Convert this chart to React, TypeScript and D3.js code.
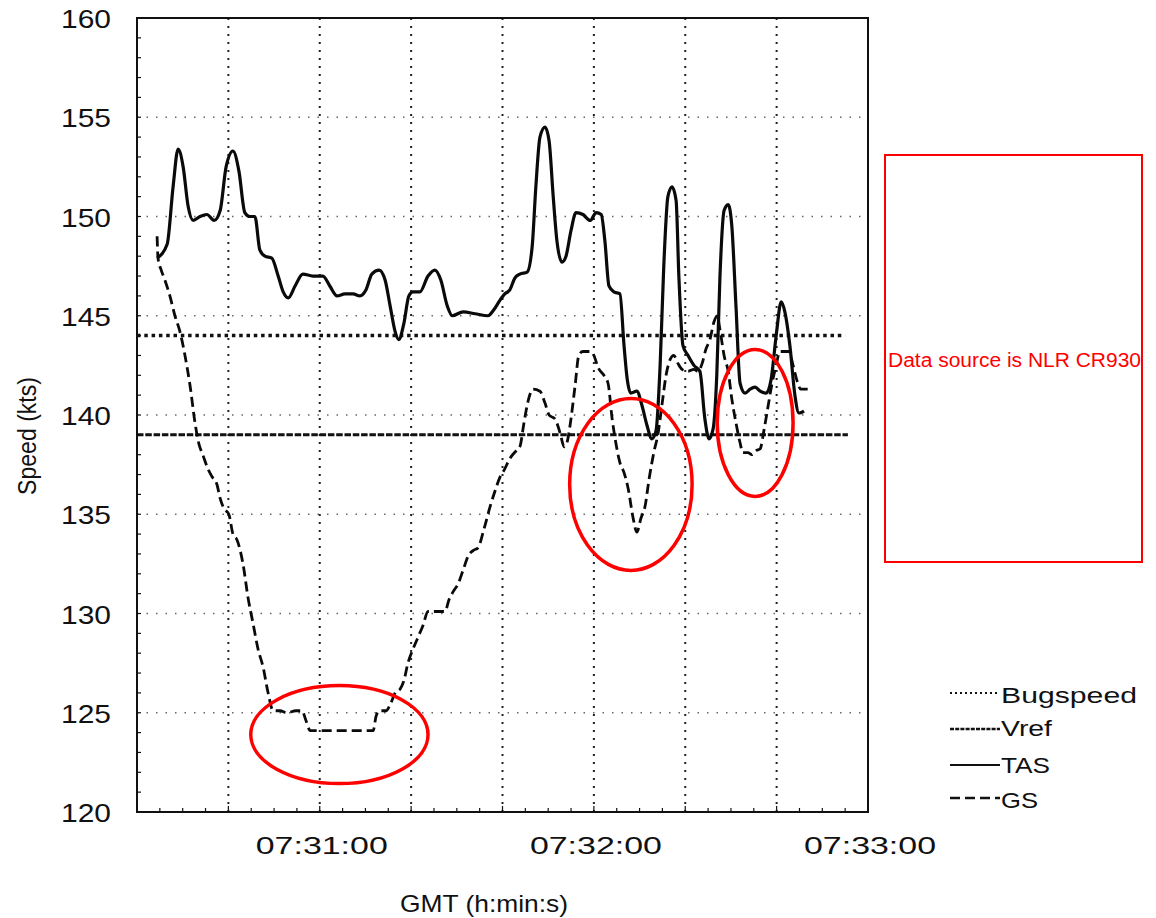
import React from 'react';
import * as d3 from 'd3';

// ---- data (seconds after 07:30:00, knots) ----
const TAS_TIME = [24.4,26.6,27.9,29.0,30.1,31.2,32.3,33.8,35.3,36.9,38.2,39.5,41.0,42.3,43.6,44.7,45.8,46.9,48.0,49.5,50.9,52.0,53.1,54.6,56.3,58.5,60.7,62.2,63.8,65.5,67.3,68.8,70.1,71.4,73.0,74.3,75.4,76.5,77.3,78.4,79.5,80.4,81.9,83.7,85.2,86.5,87.9,89.0,91.4,94.0,96.8,98.1,99.5,100.5,101.6,102.7,103.8,105.4,106.5,107.3,108.2,109.3,110.2,111.1,111.9,113.0,113.9,115.0,116.1,117.6,119.2,120.5,121.6,122.4,123.3,124.4,125.7,126.6,127.3,128.1,129.4,130.5,131.6,132.7,133.6,134.5,135.3,136.2,137.1,138.0,138.6,139.5,140.6,141.9,143.2,144.3,145.2,146.1,146.9,147.6,148.5,149.4,150.2,151.1,152.0,153.1,154.2,155.3,156.4,157.7,158.8,159.9,161.0,161.8,162.9,164.0,164.9,166.0];
const TAS_KTS = [147.9,148.6,151.5,153.4,152.5,150.5,149.8,150.0,150.1,149.8,150.3,152.5,153.3,152.3,150.2,150.0,150.0,148.3,148.0,147.9,147.0,146.2,145.9,146.5,147.1,147.0,147.0,146.5,146.0,146.1,146.1,146.0,146.3,147.1,147.3,146.8,145.5,144.2,143.8,144.6,146.0,146.2,146.2,147.0,147.3,146.8,145.5,145.0,145.2,145.1,145.0,145.3,145.8,146.1,146.3,146.9,147.1,147.2,148.5,151.5,154.0,154.5,153.8,151.0,148.8,147.7,148.0,149.3,150.2,150.1,149.8,150.2,150.1,148.8,146.5,146.2,146.1,143.5,141.8,141.1,141.2,140.5,139.5,138.8,139.2,142.5,147.5,151.0,151.5,150.8,147.0,143.5,143.0,142.5,142.2,139.8,138.8,139.3,142.0,147.0,150.3,150.6,149.5,145.5,141.6,141.1,141.3,141.4,141.2,141.1,141.8,144.0,145.7,145.2,143.5,141.0,140.1,140.2];

const GS_TIME = [24.4,24.6,25.3,26.1,27.2,28.3,29.4,30.5,31.6,32.7,33.6,34.4,35.5,36.4,37.5,38.2,39.0,40.1,41.0,41.9,43.2,44.3,45.4,46.5,47.6,48.7,49.8,51.3,52.8,54.8,56.1,57.0,57.9,60.1,64.4,68.8,71.7,72.3,73.0,74.5,75.4,76.5,77.6,78.4,79.3,80.4,81.5,82.6,83.7,85.4,87.4,88.3,89.2,90.3,91.4,92.5,93.8,94.6,96.0,97.3,98.4,99.5,100.3,101.6,103.0,103.8,104.7,105.6,106.7,108.2,109.3,110.2,111.5,112.6,113.5,114.1,114.8,115.9,116.7,117.6,119.2,120.0,120.9,122.2,123.1,124.0,124.8,125.7,126.6,127.5,128.6,129.4,130.3,131.2,132.1,133.2,134.0,134.9,135.8,136.7,137.5,138.4,139.3,140.6,141.9,142.8,143.7,144.5,145.4,146.3,147.0,147.6,148.5,149.4,150.2,151.1,152.0,152.6,153.7,154.6,155.5,156.4,157.2,158.1,159.0,159.9,160.7,161.8,162.7,163.6,164.5,165.3,166.4,167.7];
const GS_KTS = [149.0,147.9,147.3,146.8,146.0,145.0,144.2,143.0,141.5,139.6,138.5,138.0,137.3,136.9,136.5,135.8,135.3,135.0,134.0,133.7,132.5,130.8,129.5,128.2,127.3,126.0,125.1,125.1,125.0,125.1,125.1,124.6,124.1,124.1,124.1,124.1,124.1,124.8,125.1,125.1,125.4,126.0,126.2,126.6,127.5,128.2,128.8,129.4,130.1,130.1,130.1,130.7,131.1,131.5,132.2,132.9,133.2,133.3,134.3,135.4,136.2,136.9,137.2,137.8,138.2,138.4,139.6,140.7,141.3,141.2,140.6,140.0,139.8,139.1,138.4,138.6,139.5,141.5,143.0,143.2,143.2,143.0,142.4,142.0,141.6,139.8,138.6,137.6,137.1,136.3,134.8,134.1,134.8,135.4,136.8,138.2,139.0,140.5,142.0,142.8,143.0,142.6,142.3,142.2,142.3,142.2,142.6,143.3,143.8,144.7,145.0,144.3,143.0,142.2,140.8,139.6,138.6,138.1,138.1,138.0,138.2,138.3,139.2,140.4,141.6,142.5,143.2,143.2,143.2,142.5,141.7,141.3,141.3,141.3];

const BUGSPEED = 144;
const BUGSPEED_RANGE = [20, 175.0];
const VREF = 139;
const VREF_RANGE = [20, 175.6];

const Y_TICKS = [120, 125, 130, 135, 140, 145, 150, 155, 160];
const X_GRID = [40, 60, 80, 100, 120, 140, 160];
const X_LABEL_T = [60, 120, 180];
const X_LABELS = ['07:31:00', '07:32:00', '07:33:00'];

// annotation ellipses: centre time, centre kts, half-width (s), half-height (kts)
const MARK_T = [64.3, 128.1, 155.3];
const MARK_V = [123.9, 136.5, 139.6];
const MARK_RT = [19.4, 13.4, 8.3];
const MARK_RV = [2.47, 4.33, 3.7];

const LEGEND = ['Bugspeed', 'Vref', 'TAS', 'GS'];

const W = 1156, H = 918;
const X0 = 137, X1 = 868, Y0 = 812, Y1 = 18;

export default function App() {
  const x = d3.scaleLinear().domain([20, 180]).range([X0, X1]);
  const y = d3.scaleLinear().domain([120, 160]).range([Y0, Y1]);

  const tas = d3.zip(TAS_TIME, TAS_KTS) as [number, number][];
  const gs = d3.zip(GS_TIME, GS_KTS) as [number, number][];
  const line = d3.line<[number, number]>()
    .x(d => x(d[0])).y(d => y(d[1]))
    .curve(d3.curveMonotoneX);

  const minorY = d3.range(121, 160, 1);
  const minorX = d3.range(25, 180, 5);

  const font = '"Liberation Sans", Arial, sans-serif';
  const legendStyles = [
    { dash: '2,3', w: 2 },
    { dash: '4,1.2', w: 2.5 },
    { dash: null, w: 2.2 },
    { dash: '10,5', w: 2.5 },
  ];
  const legendLineY = [693, 729, 765, 798];
  const legendTextY = [703, 736, 773, 808];
  const legendTextLen = [136, 51, 49, 37];

  return (
    <svg width={W} height={H} style={{ position: 'absolute', left: 0, top: 0, background: '#fff' }}>
      <rect x={0} y={0} width={W} height={H} fill="#fff" />
      {/* horizontal grid */}
      {Y_TICKS.filter(v => v > 120 && v < 160).map(v => (
        <line key={'hg' + v} x1={X0} x2={X1} y1={y(v)} y2={y(v)}
          stroke="#666" strokeWidth={1.3} strokeDasharray="1.5,8" />
      ))}
      {/* vertical grid */}
      {X_GRID.map(t => (
        <line key={'vg' + t} x1={x(t)} x2={x(t)} y1={Y1} y2={Y0}
          stroke="#222" strokeWidth={2} strokeDasharray="2,6" />
      ))}
      {/* minor ticks */}
      {minorY.map(v => (
        <line key={'my' + v} x1={X0} x2={X0 + 4} y1={y(v)} y2={y(v)} stroke="#111" strokeWidth={1.2} />
      ))}
      {minorX.map(t => (
        <line key={'mx' + t} x1={x(t)} x2={x(t)} y1={Y0} y2={Y0 - (t % 20 === 0 ? 6 : 4)} stroke="#111" strokeWidth={1.2} />
      ))}
      {/* frame */}
      <rect x={X0} y={Y1} width={X1 - X0} height={Y0 - Y1} fill="none" stroke="#111" strokeWidth={2} />

      {/* reference lines */}
      <line x1={x(BUGSPEED_RANGE[0])} x2={x(BUGSPEED_RANGE[1])} y1={y(BUGSPEED)} y2={y(BUGSPEED)}
        stroke="#111" strokeWidth={3.5} strokeDasharray="3.5,3.8" />
      <line x1={x(VREF_RANGE[0])} x2={x(VREF_RANGE[1])} y1={y(VREF)} y2={y(VREF)}
        stroke="#111" strokeWidth={3} strokeDasharray="6.5,1.8" />

      {/* series */}
      <path d={line(tas) || ''} fill="none" stroke="#0a0a0a" strokeWidth={3.2} strokeLinejoin="round" />
      <path d={line(gs) || ''} fill="none" stroke="#0a0a0a" strokeWidth={2.8} strokeDasharray="10,5" />

      {/* y tick labels */}
      {Y_TICKS.map(v => (
        <text key={'yl' + v} x={86} y={y(v) + 10} textAnchor="middle" fontFamily={font} fontSize={25}
          textLength={50} lengthAdjust="spacingAndGlyphs" fill="#111">{v}</text>
      ))}
      {/* x tick labels */}
      {X_LABEL_T.map((t, i) => (
        <text key={'xl' + t} x={x(t) + 2} y={854} textAnchor="middle" fontFamily={font} fontSize={24}
          textLength={132} lengthAdjust="spacingAndGlyphs" fill="#111">{X_LABELS[i]}</text>
      ))}
      {/* axis titles */}
      <text x={484} y={912} textAnchor="middle" fontFamily={font} fontSize={24}
        textLength={168} lengthAdjust="spacingAndGlyphs" fill="#111">GMT (h:min:s)</text>
      <text transform="translate(36,495) rotate(-90)" x={0} y={0} textAnchor="start" fontFamily={font}
        fontSize={26} textLength={118} lengthAdjust="spacingAndGlyphs" fill="#111">Speed (kts)</text>

      {/* legend */}
      {LEGEND.map((name, i) => (
        <g key={name}>
          <line x1={950} x2={1000} y1={legendLineY[i]} y2={legendLineY[i]} stroke="#111"
            strokeWidth={legendStyles[i].w} strokeDasharray={legendStyles[i].dash || undefined} />
          <text x={1001} y={legendTextY[i]} fontFamily={font} fontSize={22}
            textLength={legendTextLen[i]} lengthAdjust="spacingAndGlyphs" fill="#111">{name}</text>
        </g>
      ))}

      {/* red annotations */}
      {MARK_T.map((t, i) => (
        <ellipse key={'e' + i} cx={x(t)} cy={y(MARK_V[i])}
          rx={x(t + MARK_RT[i]) - x(t)} ry={y(MARK_V[i] - MARK_RV[i]) - y(MARK_V[i])}
          fill="none" stroke="#ff0000" strokeWidth={3.5} />
      ))}
      <rect x={885} y={155} width={257} height={407} fill="none" stroke="#ff0000" strokeWidth={2} />
      <text x={888} y={367} fontFamily={font} fontSize={19.5} fill="#ff0000"
        textLength={253} lengthAdjust="spacingAndGlyphs">Data source is NLR CR930</text>
    </svg>
  );
}
